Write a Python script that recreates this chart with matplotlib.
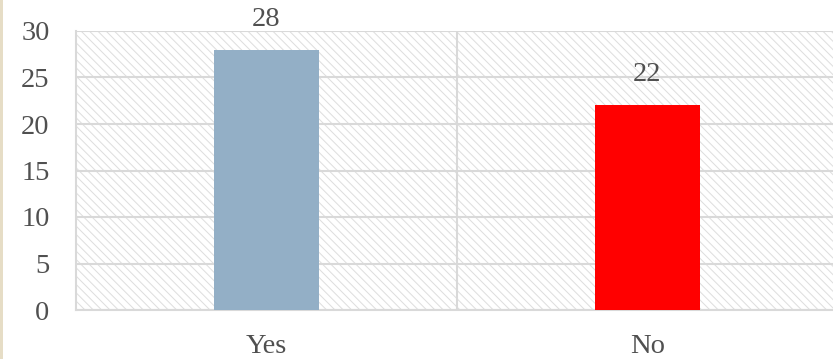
import matplotlib.pyplot as plt
from matplotlib.patches import Rectangle

categories = ["Yes", "No"]
counts = [28, 22]
bar_colors = ["#93AFC6", "#FF0000"]
y_ticks = [0, 5, 10, 15, 20, 25, 30]

TEXT = "#505050"
GRID = "#D9D9D9"

plt.rcParams["font.family"] = ["Liberation Serif", "DejaVu Serif"]
plt.rcParams["hatch.linewidth"] = 0.7
plt.rcParams["hatch.color"] = "#DDDDDD"

fig = plt.figure(figsize=(8.33, 3.59), dpi=100)
# plot area runs off the right edge of the figure
ax = fig.add_axes([76 / 833, 49 / 359, 762 / 833, 279 / 359])

# beige strip along the left edge
fig.patches.append(Rectangle((0, 0), 3 / 833, 1, transform=fig.transFigure,
                             facecolor="#E6DDC6", edgecolor="none"))

# hatched plot background
ax.add_patch(Rectangle((0, 0), 1, 1, transform=ax.transAxes, facecolor="white",
                       edgecolor="#DDDDDD", hatch="\\\\\\\\", linewidth=0, zorder=0))

x = range(len(categories))
ax.bar(x, counts, width=0.275, color=bar_colors, zorder=3)
for xi, v in zip(x, counts):
    ax.annotate(f"{v}", (xi, v), xytext=(0, 13), textcoords="offset points",
                ha="center", va="bottom", fontsize=20.5, color=TEXT)

ax.set_xlim(-0.5, 1.5)
ax.set_ylim(0, 30)
ax.set_yticks(y_ticks)
ax.set_xticks(list(x))
ax.set_xticklabels(categories)
ax.tick_params(axis="both", length=0, labelsize=20.5, labelcolor=TEXT)
ax.tick_params(axis="y", pad=19)
ax.tick_params(axis="x", pad=17)

ax.set_axisbelow(True)
ax.grid(axis="y", color=GRID, linewidth=1.5, zorder=1)
ax.axvline(0.5, color=GRID, linewidth=1.5, zorder=1)
for side in ["top", "right"]:
    ax.spines[side].set_visible(False)
for side in ["left", "bottom"]:
    ax.spines[side].set_color(GRID)
    ax.spines[side].set_linewidth(1.5)

fig.savefig("out.png", dpi=100)
